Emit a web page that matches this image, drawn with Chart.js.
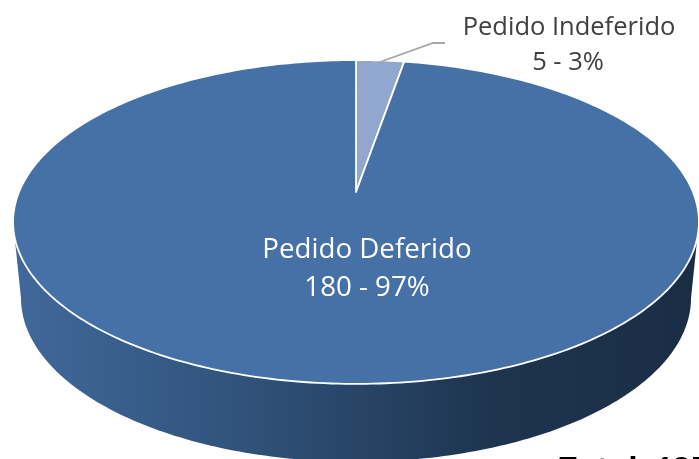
<!DOCTYPE html>
<html>
<head>
<meta charset="utf-8">
<style>
    html, body { margin: 0; padding: 0; background: #fff; overflow: hidden; }
    canvas { display: block; }
</style>
<script src="https://cdn.jsdelivr.net/npm/chart.js@4"></script>
</head>
<body>
<canvas id="pedidos" width="699" height="459"></canvas>
<script>
const labels = ["Pedido Indeferido", "Pedido Deferido"];
const values = [5, 180];
const sliceColors = ["#92a7d0", "#4571a6"];
const totalLabel = "Total: 185";

// The pie is seen in perspective, so the near half looks bigger than the far half
const view = { cx: 356, cy: 192, a: 337, b: 156.4, k: 0.185 };
const topFace = { sx: 1, sy: 1, drop: 0 };
const lowerRim = { sx: 0.977, sy: 1.012, drop: 75.6 };

// Turn a point of the unit circle into canvas coordinates
function project(x, y, face) {
    const w = 1 - view.k * y;
    return {
        x: view.cx + face.sx * view.a * x / w,
        y: view.cy + face.drop + face.sy * view.b * y / w
    };
}

function tracePath(ctx, start, end, face, closeToCentre) {
    ctx.beginPath();
    if (closeToCentre) {
        const c = project(0, 0, face);
        ctx.moveTo(c.x, c.y);
    }
    const steps = Math.max(8, Math.ceil((end - start) * 60));
    for (let i = 0; i <= steps; i++) {
        const t = start + (end - start) * i / steps;
        const p = project(Math.cos(t), Math.sin(t), face);
        ctx.lineTo(p.x, p.y);
    }
    ctx.closePath();
}

const perspectivePie = {
    id: "perspectivePie",
    beforeDatasetDraw(chart) {
        const ctx = chart.ctx;
        const arcs = chart.getDatasetMeta(0).data;

        // Side wall: lower rim plus the band joining it to the top face
        const grad = ctx.createLinearGradient(15, 0, 697, 0);
        grad.addColorStop(0, "#40689a");
        grad.addColorStop(0.3, "#32557e");
        grad.addColorStop(0.7, "#1e344f");
        grad.addColorStop(1, "#1a2d45");
        ctx.save();
        ctx.fillStyle = grad;
        tracePath(ctx, 0, Math.PI * 2, lowerRim, false);
        ctx.fill();
        const side = Math.asin(view.k);
        const l1 = project(-Math.cos(side), view.k, topFace);
        const r1 = project(Math.cos(side), view.k, topFace);
        const l2 = project(-Math.cos(side), view.k, lowerRim);
        const r2 = project(Math.cos(side), view.k, lowerRim);
        ctx.beginPath();
        ctx.moveTo(l1.x, l1.y);
        ctx.lineTo(r1.x, r1.y);
        ctx.lineTo(r2.x, r2.y);
        ctx.lineTo(l2.x, l2.y);
        ctx.closePath();
        ctx.fill();

        // Top face, one path per slice, angles taken from the pie controller
        arcs.forEach((arc, i) => {
            tracePath(ctx, arc.startAngle, arc.endAngle, topFace, true);
            ctx.fillStyle = sliceColors[i];
            ctx.fill();
            ctx.strokeStyle = "#ffffff";
            ctx.lineWidth = 1.8;
            ctx.lineJoin = "round";
            ctx.stroke();
        });
        ctx.restore();
        return false; // default circular arcs are not wanted
    },
    afterDraw(chart) {
        const ctx = chart.ctx;
        const total = values.reduce((a, b) => a + b, 0);
        const text = i => values[i] + " - " + Math.round(values[i] / total * 100) + "%";

        ctx.save();
        // Leader line of the small slice
        ctx.strokeStyle = "#a6a6a6";
        ctx.lineWidth = 1.8;
        ctx.beginPath();
        ctx.moveTo(380, 62);
        ctx.lineTo(433, 43);
        ctx.lineTo(445, 43);
        ctx.stroke();

        ctx.textAlign = "center";
        ctx.textBaseline = "alphabetic";
        ctx.font = '25.5px "Open Sans"';
        ctx.fillStyle = "#404040";
        ctx.fillText(labels[0], 569, 35);
        ctx.fillText(text(0), 568, 70);

        ctx.font = '27.7px "Open Sans"';
        ctx.fillStyle = "#ffffff";
        ctx.fillText(labels[1], 367, 258);
        ctx.fillText(text(1), 367, 296);

        ctx.textAlign = "left";
        ctx.font = 'bold 31px "Open Sans"';
        ctx.fillStyle = "#000000";
        ctx.fillText(totalLabel, 559, 479);
        ctx.restore();
    }
};

new Chart(document.getElementById("pedidos").getContext("2d"), {
    type: "pie",
    data: {
        labels: labels,
        datasets: [{
            data: values,
            backgroundColor: sliceColors,
            borderWidth: 0
        }]
    },
    options: {
        responsive: false,
        animation: false,
        plugins: {
            legend: { display: false },
            tooltip: { enabled: false }
        }
    },
    plugins: [perspectivePie]
});
</script>
</body>
</html>
